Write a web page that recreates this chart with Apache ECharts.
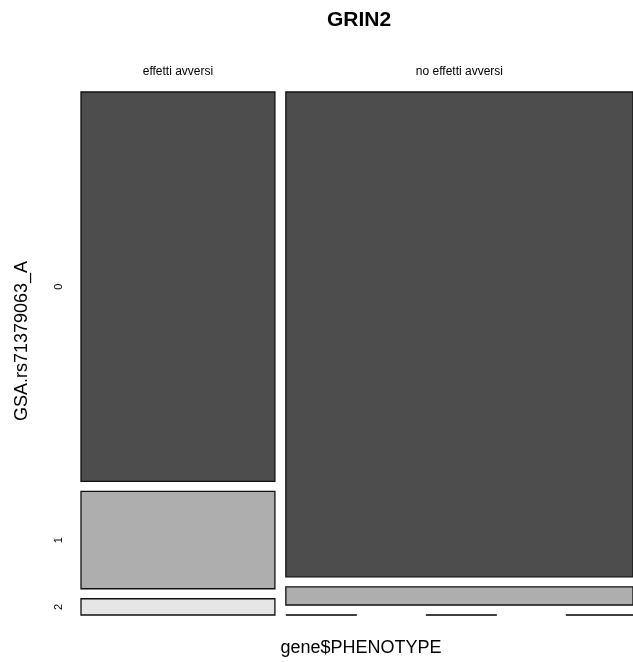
<!DOCTYPE html>
<html>
<head>
<meta charset="utf-8">
<script src="https://cdn.jsdelivr.net/npm/echarts@6/dist/echarts.min.js"></script>
<style>html,body{margin:0;padding:0;background:#fff;}#c{width:633px;height:662px;}</style>
</head>
<body>
<div id="c"></div>
<script>
const chartTitle = 'GRIN2';
const xTitle = 'gene$PHENOTYPE';
const yTitle = 'GSA.rs71379063_A';
const categories = ['effetti avversi', 'no effetti avversi'];
const levels = ['0', '1', '2'];
const countsEffetti = [48, 12, 2];
const countsNoEffetti = [107, 4, 0];
const fillColors = ['#4D4D4D', '#AEAEAE', '#E6E6E6'];

const grid = {left: 81, top: 92, width: 555, height: 523};
const xGap = 11 / grid.width;
const yGap = 10 / grid.height;
const columns = [countsEffetti, countsNoEffetti];
const colTotals = columns.map(c => c.reduce((a, b) => a + b, 0));
const grand = colTotals.reduce((a, b) => a + b, 0);
const usableX = 1 - xGap * (columns.length - 1);
const usableY = 1 - yGap * (levels.length - 1);

const cells = [];
let xs = 0;
columns.forEach((col, ci) => {
  const w = colTotals[ci] / grand * usableX;
  let ys = 0;
  col.forEach((v, li) => {
    const h = v / colTotals[ci] * usableY;
    cells.push([xs, xs + w, ys, ys + h, li, ci, v]);
    ys += h + yGap;
  });
  xs += w + xGap;
});

const FONT = 'Liberation Sans, Arial, Helvetica, sans-serif';
const chart = echarts.init(document.getElementById('c'), null, {renderer: 'canvas'});
chart.setOption({
  animation: false,
  backgroundColor: '#ffffff',
  grid: grid,
  xAxis: {type: 'value', min: 0, max: 1, show: false},
  yAxis: {type: 'value', min: 0, max: 1, inverse: true, show: false},
  graphic: [
    {type: 'text', x: 359, y: 20, style: {text: chartTitle, font: 'bold 21px ' + FONT, fill: '#000', align: 'center', verticalAlign: 'middle'}},
    {type: 'text', x: 361, y: 648, style: {text: xTitle, font: '18px ' + FONT, fill: '#000', align: 'center', verticalAlign: 'middle'}},
    {type: 'text', x: 22, y: 341, rotation: Math.PI / 2, style: {text: yTitle, font: '18px ' + FONT, fill: '#000', align: 'center', verticalAlign: 'middle'}}
  ],
  series: [{
    type: 'custom',
    clip: false,
    data: cells,
    renderItem: function (params, api) {
      const x0 = api.value(0), x1 = api.value(1), y0 = api.value(2), y1 = api.value(3);
      const li = api.value(4), ci = api.value(5), v = api.value(6);
      const p0 = api.coord([x0, y0]);
      const p1 = api.coord([x1, y1]);
      const children = [];
      if (v > 0) {
        children.push({
          type: 'rect',
          shape: {x: p0[0], y: p0[1], width: p1[0] - p0[0], height: p1[1] - p0[1]},
          style: {fill: fillColors[li], stroke: '#111', lineWidth: 1.3}
        });
      } else {
        children.push({
          type: 'line',
          shape: {x1: p0[0], y1: p0[1], x2: p1[0], y2: p0[1]},
          style: {stroke: '#000', lineWidth: 1.5, lineDash: [71, 69]}
        });
      }
      if (li === 0) {
        children.push({
          type: 'text', x: (p0[0] + p1[0]) / 2, y: p0[1] - 20.5,
          style: {text: categories[ci], font: '12px ' + FONT, fill: '#000', align: 'center', verticalAlign: 'middle'}
        });
      }
      if (ci === 0) {
        children.push({
          type: 'text', x: p0[0] - 22, y: (p0[1] + p1[1]) / 2, rotation: Math.PI / 2,
          style: {text: levels[li], font: '11px ' + FONT, fill: '#000', align: 'center', verticalAlign: 'middle'}
        });
      }
      return {type: 'group', children: children};
    }
  }]
});
</script>
</body>
</html>
